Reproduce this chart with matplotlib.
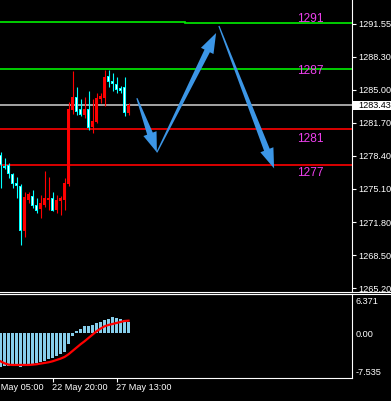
import numpy as np
import matplotlib
matplotlib.use('Agg')
import matplotlib.pyplot as plt
from matplotlib import font_manager
from matplotlib.patches import Polygon, Rectangle
from matplotlib.lines import Line2D

# === DATA (H bars, price panel) ===
opens = [1278.50, 1277.40, 1277.50, 1276.60, 1275.70, 1275.41, 1270.92, 1274.01, 1274.41, 1273.51,
         1273.11, 1273.51, 1274.01, 1274.21, 1273.01, 1273.91, 1274.01, 1275.60, 1282.98, 1284.28,
         1283.08, 1282.48, 1283.08, 1281.29, 1281.79, 1284.08, 1284.18, 1286.37, 1285.87, 1285.58,
         1285.18, 1285.28, 1282.68]
highs = [1278.80, 1278.20, 1277.70, 1276.70, 1276.30, 1275.60, 1274.81, 1274.81, 1275.01, 1274.21,
         1274.51, 1276.90, 1276.30, 1274.81, 1274.51, 1274.41, 1276.20, 1283.78, 1286.87, 1285.28,
         1284.08, 1284.28, 1284.88, 1284.08, 1284.68, 1284.68, 1286.97, 1286.97, 1286.67, 1286.27,
         1285.38, 1286.27, 1283.68]
lows = [1275.21, 1277.10, 1276.20, 1275.21, 1274.21, 1269.52, 1270.32, 1273.71, 1273.21, 1272.71,
        1272.22, 1273.31, 1273.01, 1272.91, 1272.71, 1272.51, 1273.01, 1275.41, 1282.58, 1282.48,
        1282.38, 1282.19, 1280.99, 1280.69, 1281.69, 1283.68, 1283.38, 1285.28, 1284.88, 1284.68,
        1284.68, 1282.38, 1282.48]
closes = [1277.50, 1277.20, 1276.60, 1275.60, 1275.41, 1270.92, 1274.31, 1274.61, 1273.41, 1272.91,
          1273.71, 1274.21, 1274.21, 1272.91, 1274.01, 1274.21, 1275.70, 1283.08, 1284.28, 1282.78,
          1282.48, 1283.08, 1281.19, 1281.89, 1284.18, 1284.38, 1286.27, 1285.77, 1285.58, 1284.98,
          1284.88, 1282.68, 1283.43]

# === DATA (MACD panel) ===
macd_hist = [-6.58, -6.45, -6.32, -6.25, -6.32, -6.64, -6.32, -6.19, -5.99, -5.79, -5.60, -5.34,
             -5.01, -4.75, -4.43, -4.10, -3.71, -2.02, -0.59, 0.39, 0.91, 1.37, 1.37, 1.56, 2.02,
             2.15, 2.67, 2.86, 3.10, 3.05, 2.85, 2.60, 2.25]
macd_signal = [-5.47, -5.86, -6.12, -6.18, -6.18, -6.18, -6.18, -6.18, -6.12, -6.05, -5.92, -5.79,
               -5.66, -5.47, -5.21, -4.95, -4.62, -4.10, -3.45, -2.80, -2.15, -1.56, -0.91, -0.26,
               0.39, 0.91, 1.37, 1.63, 1.82, 2.02, 2.21, 2.41, 2.47]

# === LEVELS / OBJECTS ===
bid = 1283.43
level_prices = [1291.72, 1291.62, 1287.02, 1281.12, 1277.52]
level_start = [-1, 46.1, -1, -1, -1]
level_end = [46.1, 90, 90, 90, 90]
level_colors = ['#00F000', '#00F000', '#00F000', '#FF0000', '#FF0000']

label_texts = ['1291', '1287', '1281', '1277']
label_prices = [1292.00, 1286.89, 1280.13, 1276.73]
label_x = 74.05

arrow_tail_x = [34.1, 39.1, 54.6]
arrow_tail_y = [1284.15, 1278.75, 1291.35]
arrow_tip_x = [39.1, 53.9, 68.4]
arrow_tip_y = [1278.75, 1290.65, 1277.15]

price_ticks = [1291.55, 1288.30, 1285.00, 1281.70, 1278.40, 1275.10, 1271.80, 1268.50, 1265.20]
macd_ticks = [6.371, 0.00, -7.535]
macd_tick_labels = ['6.371', '0.00', '-7.535']
time_pos = [-3, 13, 29]
time_labels = ['20 May 05:00', '22 May 20:00', '27 May 13:00']

# === FONT ===
nomes = {f.name for f in font_manager.fontManager.ttflist}
if 'Liberation Sans Narrow' in nomes:
    FONTE, TAM = 'Liberation Sans Narrow', 7.6
else:
    FONTE, TAM = 'Liberation Sans', 6.6
plt.rcParams['font.family'] = FONTE

W, H = 391, 401
LW = 0.72  # one pixel at 100 dpi
fig = plt.figure(figsize=(W / 100, H / 100), dpi=100, facecolor='black')

ax = fig.add_axes([0, 1 - 291 / H, 351.5 / W, 291 / H], facecolor='black')
ax2 = fig.add_axes([0, 23 / H, 351.5 / W, 84 / H], facecolor='black')

XMIN, XMAX = -0.125, 87.75
ax.set_xlim(XMIN, XMAX)
ax.set_ylim(1264.93, 1293.94)
ax2.set_xlim(XMIN, XMAX)
ax2.set_ylim(-8.73, 7.68)

# === CANDLES ===
x = np.arange(len(opens))
for i in x:
    o, h, l, c = opens[i], highs[i], lows[i], closes[i]
    alta = c > o
    cor = '#FF0000' if alta else '#00FFFF'
    ax.vlines(i, l, h, color=cor, lw=0.8, zorder=3)
    base = min(o, c)
    alt = max(abs(c - o), 0.1)
    ax.bar(i, alt, bottom=base, width=0.75, color=cor, lw=0, zorder=4)
    if not alta and alt > 0.25:
        ax.bar(i, alt - 0.2, bottom=base + 0.1, width=0.25, color='white', lw=0, zorder=5)

# === HORIZONTAL LINES ===
for p, a, b, cor in zip(level_prices, level_start, level_end, level_colors):
    ax.plot([a, b], [p, p], color=cor, lw=1.2, zorder=2)
ax.axhline(bid, color='#D0D0D0', lw=1.1, zorder=2)

for t, p in zip(label_texts, label_prices):
    ax.text(label_x, p, t, color='#EE40EE', fontsize=8.6, family='Liberation Sans',
            ha='left', va='center', zorder=6)

# === ARROWS ===
def seta(ax, x0, y0, x1, y1, head_len=20, head_w=14, shaft_w=6):
    p0 = ax.transData.transform((x0, y0))
    p1 = ax.transData.transform((x1, y1))
    d = p1 - p0
    u = d / np.hypot(*d)
    n = np.array([-u[1], u[0]])
    base = p1 - u * head_len
    pts = [p0 + n * 0.6, base + n * shaft_w / 2, base + n * head_w / 2, p1,
           base - n * head_w / 2, base - n * shaft_w / 2, p0 - n * 0.6]
    pts = ax.transData.inverted().transform(np.array(pts))
    ax.add_patch(Polygon(pts, closed=True, facecolor='#3C96E6', edgecolor='none', zorder=7))

for i in range(len(arrow_tail_x)):
    seta(ax, arrow_tail_x[i], arrow_tail_y[i], arrow_tip_x[i], arrow_tip_y[i])

# === PRICE AXIS ===
for s in ['left', 'top', 'bottom']:
    ax.spines[s].set_visible(False)
ax.spines['right'].set_color('white')
ax.spines['right'].set_linewidth(0.8)
ax.set_xticks([])
ax.yaxis.tick_right()
ax.set_yticks(price_ticks)
ax.set_yticklabels([f'{p:.2f}' for p in price_ticks])
ax.tick_params(axis='y', colors='white', length=3, width=0.8, pad=2, labelsize=TAM)

ax.add_patch(Rectangle((1.0, bid - 0.47), (W - 351.5) / 351.5, 0.95,
                       transform=ax.get_yaxis_transform(), facecolor='white',
                       edgecolor='none', clip_on=False, zorder=8))
ax.text(1 + 6.5 / 351.5, bid, f'{bid:.2f}', transform=ax.get_yaxis_transform(),
        color='black', fontsize=TAM, ha='left', va='center', clip_on=False, zorder=9)

# === MACD PANEL ===
ax2.bar(x, macd_hist, width=0.68, color='#87CEEB', lw=0, zorder=2)
ax2.plot(x, macd_signal, color='#FF0000', lw=1.6, zorder=3)

ax2.spines['left'].set_visible(False)
for s in ['top', 'right', 'bottom']:
    ax2.spines[s].set_color('white')
    ax2.spines[s].set_linewidth(0.8)
ax2.yaxis.tick_right()
ax2.set_yticks(macd_ticks)
ax2.set_yticklabels(macd_tick_labels)
ax2.tick_params(axis='y', colors='white', length=0, pad=3, labelsize=TAM)
ax2.set_xticks(time_pos[1:])
ax2.set_xticklabels([])
ax2.tick_params(axis='x', colors='white', length=3, width=0.8)
for pos, lab in zip(time_pos, time_labels):
    ax2.text(pos - 0.15, -10 / 84, lab, transform=ax2.get_xaxis_transform(), color='white',
             fontsize=TAM, ha='left', va='center', clip_on=False)

# separator lines across the full width
fig.add_artist(Line2D([0, 1], [1 - 291.5 / H] * 2, color='white', lw=0.8))
fig.add_artist(Line2D([0, 1], [1 - 294 / H] * 2, color='white', lw=0.8))

fig.savefig('out.png', dpi=100, facecolor='black')
